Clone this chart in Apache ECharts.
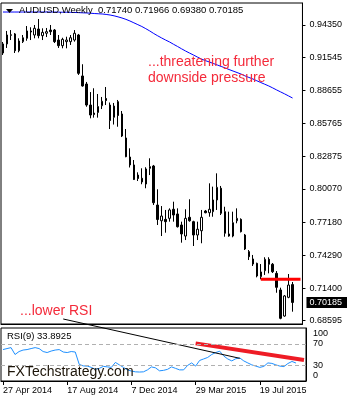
<!DOCTYPE html>
<html><head><meta charset="utf-8">
<script src="https://cdn.jsdelivr.net/npm/echarts@6/dist/echarts.min.js"></script>
<style>html,body{margin:0;padding:0;background:#fff}#c{width:350px;height:400px}</style>
</head><body><div id="c"></div>
<script>
// ---- data ----
const opens  = [0.9270,0.9270,0.9345,0.9357,0.9211,0.9290,0.9319,0.9383,0.9348,0.9400,0.9342,0.9363,0.9391,0.9391,0.9304,0.9255,0.9290,0.9290,0.9304,0.9348,
                0.8991,0.8921,0.8738,0.8668,0.8673,0.8732,0.8795,0.8738,0.8631,0.8767,0.8660,0.8451,0.8285,0.8216,0.8128,0.8100,0.8050,0.8201,0.8207,0.7867,
                0.7730,0.7742,0.7751,0.7830,0.7789,0.7693,0.7597,0.7760,0.7722,0.7606,0.7643,0.7815,0.7800,0.7809,0.7911,0.8013,0.7809,0.7615,0.7597,0.7730,
                0.7742,0.7606,0.7461,0.7397,0.7359,0.7243,0.7295,0.7394,0.7351,0.7272,0.7127,0.6900,0.7063,0.71740];
const closes = [0.9191,0.9348,0.9350,0.9211,0.9296,0.9324,0.9383,0.9374,0.9406,0.9342,0.9371,0.9377,0.9377,0.9290,0.9255,0.9310,0.9304,0.9324,0.9363,0.9014,
                0.8904,0.8738,0.8651,0.8655,0.8725,0.8771,0.8777,0.8603,0.8729,0.8647,0.8468,0.8288,0.8216,0.8089,0.8098,0.8068,0.8181,0.8187,0.7887,0.7741,
                0.7771,0.7722,0.7824,0.7780,0.7678,0.7615,0.7751,0.7730,0.7606,0.7656,0.7760,0.7800,0.7830,0.7911,0.8021,0.7795,0.7621,0.7597,0.7713,0.7751,
                0.7635,0.7484,0.7417,0.7353,0.7249,0.7284,0.7394,0.7351,0.7286,0.7150,0.6880,0.7075,0.7170,0.70185];
const lows   = [0.9174,0.9235,0.9304,0.9191,0.9197,0.9278,0.9298,0.9304,0.9319,0.9319,0.9304,0.9330,0.9348,0.9278,0.9235,0.9232,0.9232,0.9261,0.9290,0.9000,
                0.8898,0.8723,0.8622,0.8628,0.8628,0.8703,0.8738,0.8529,0.8568,0.8549,0.8459,0.8283,0.8194,0.8085,0.8076,0.8048,0.8013,0.8128,0.7867,0.7693,
                0.7597,0.7626,0.7722,0.7722,0.7671,0.7539,0.7562,0.7722,0.7510,0.7562,0.7534,0.7795,0.7765,0.7765,0.7824,0.7780,0.7591,0.7591,0.7586,0.7708,
                0.7628,0.7475,0.7388,0.7336,0.7237,0.7220,0.7258,0.7272,0.7275,0.7103,0.6872,0.6894,0.7055,0.69380];
const highs  = [0.9287,0.9383,0.9391,0.9365,0.9319,0.9348,0.9426,0.9415,0.9435,0.9487,0.9406,0.9409,0.9435,0.9400,0.9348,0.9324,0.9333,0.9348,0.9391,0.9357,
                0.9093,0.8939,0.8851,0.8884,0.8834,0.8808,0.8895,0.8760,0.8756,0.8782,0.8686,0.8529,0.8361,0.8259,0.8152,0.8187,0.8196,0.8274,0.8216,0.8004,
                0.7858,0.7824,0.7838,0.7896,0.7838,0.7722,0.7830,0.7917,0.7730,0.7722,0.7824,0.7824,0.8056,0.8027,0.8143,0.8033,0.7852,0.7809,0.7809,0.7838,
                0.7751,0.7615,0.7475,0.7432,0.7365,0.7353,0.7412,0.7412,0.7362,0.7292,0.7147,0.7083,0.7266,0.71966];
const maValues = [0.9548,0.9548,0.9548,0.9548,0.9548,0.9548,0.9548,0.9548,0.9548,0.9548,0.9548,0.9548,0.9548,0.9548,0.9547,0.9546,0.9546,0.9545,0.9544,0.9543,
                  0.9541,0.9540,0.9538,0.9535,0.9533,0.9531,0.9527,0.9522,0.9515,0.9506,0.9496,0.9484,0.9470,0.9454,0.9438,0.9422,0.9403,0.9383,0.9361,0.9341,
                  0.9322,0.9304,0.9287,0.9267,0.9248,0.9228,0.9209,0.9191,0.9174,0.9156,0.9139,0.9125,0.9113,0.9100,0.9087,0.9074,0.9061,0.9047,0.9034,0.9021,
                  0.9008,0.8992,0.8978,0.8965,0.8949,0.8934,0.8919,0.8904,0.8887,0.8869,0.8852,0.8835,0.8817,0.8799];
const rsiValues = [59.3,61.2,63,50,55.6,58.4,59.3,61.2,63,61.2,55.6,53.7,56.5,58.4,59.3,54.7,53.7,55.6,54.7,31.3,
                   28.5,28.1,25.7,22,23.8,27.6,26.6,25.7,35,30.4,25.7,21,18.8,17.3,16.9,17.3,21,26.6,24.8,19.2,
                   20.1,22,26.6,23.8,21,21,29.4,34.1,28.1,38.8,41.6,44.4,50,53.7,56.2,47.2,41.6,37.9,42,43.5,
                   37.9,34.1,30.4,28.1,25.7,27.6,34.1,33.2,30.4,28.1,27.2,33,36.9,33.8925];
const priceTicks = [0.94350,0.91545,0.88655,0.85765,0.82875,0.80070,0.77180,0.74290,0.71400,0.68595];
const lastClose = 0.70185;
const rsiTicks = [100,70,30,0];
const rsiLevels = [70,30];
const xTickLabels = ['27 Apr 2014','17 Aug 2014','7 Dec 2014','29 Mar 2015','19 Jul 2015'];
const resistanceLine = [[65,0.7220],[75,0.7220]];
const rsiRedTrend = [[48,71],[75,39.6]];
const rsiBlackTrend = [[15,117],[59,42.8]];

// ---- categories: weekly bars from 27 Apr 2014 (+2 empty slots on the right) ----
const MON=['Jan','Feb','Mar','Apr','May','Jun','Jul','Aug','Sep','Oct','Nov','Dec'];
const cats=[];
for(let i=0;i<76;i++){const d=new Date(Date.UTC(2014,3,27+7*i));cats.push(d.getUTCDate()+' '+MON[d.getUTCMonth()]+' '+d.getUTCFullYear());}
const candles = opens.map((o,i)=>[o,closes[i],lows[i],highs[i]]);

const FF='Liberation Sans';
const isTick=(idx,val)=>xTickLabels.indexOf(val)>=0;
const chart=echarts.init(document.getElementById('c'),null,{renderer:'canvas'});
chart.setOption({
  animation:false,
  backgroundColor:'#fff',
  grid:[
    {left:1,top:3,width:305,height:321,show:true,borderColor:'#000',borderWidth:1,backgroundColor:'#fff'},
    {left:1,top:328,width:305,height:53,show:true,borderColor:'#000',borderWidth:1,backgroundColor:'#fff'}
  ],
  xAxis:[
    {gridIndex:0,type:'category',data:cats,boundaryGap:true,axisLine:{lineStyle:{color:'#000'}},axisTick:{show:false},axisLabel:{show:false},splitLine:{show:false}},
    {gridIndex:1,type:'category',data:cats,boundaryGap:true,axisLine:{lineStyle:{color:'#000'}},
     axisTick:{show:true,alignWithLabel:true,interval:isTick,length:4,lineStyle:{color:'#000'}},
     axisLabel:{interval:isTick,align:'left',margin:5,color:'#000',fontSize:9,fontFamily:FF},splitLine:{show:false}}
  ],
  yAxis:[
    {gridIndex:0,type:'value',position:'right',min:0.68307,max:0.96266,splitLine:{show:false},
     axisLine:{show:true,lineStyle:{color:'#000'}},
     axisTick:{show:true,length:3,lineStyle:{color:'#000'},customValues:priceTicks},
     axisLabel:{customValues:priceTicks.concat([lastClose]),margin:4,color:'#000',fontSize:9,fontFamily:FF,
       formatter:v=>Math.abs(v-lastClose)<1e-9?'{hl|'+v.toFixed(5)+'}':'{n|'+v.toFixed(5)+'}',
       rich:{n:{padding:[0,0,0,3],color:'#000',fontSize:9,fontFamily:FF},
             hl:{backgroundColor:'#000',color:'#fff',padding:[1,5,1,3],fontSize:9,fontFamily:FF}}}},
    {gridIndex:1,type:'value',position:'right',min:0,max:100,splitLine:{show:false},
     axisLine:{show:true,lineStyle:{color:'#000'}},axisTick:{show:false},
     axisLabel:{customValues:rsiTicks,margin:7,color:'#000',fontSize:9,fontFamily:FF,
       formatter:v=>v===100?'{t|100}':(v===0?'{b|0}':'{n|'+v+'}'),
       rich:{t:{padding:[12,0,0,0],fontSize:9,fontFamily:FF,color:'#000'},
             b:{padding:[0,0,10,0],fontSize:9,fontFamily:FF,color:'#000'},
             n:{fontSize:9,fontFamily:FF,color:'#000'}}}}
  ],
  series:[
    {type:'candlestick',xAxisIndex:0,yAxisIndex:0,data:candles,barWidth:2,
     itemStyle:{color:'#fff',color0:'#000',borderColor:'#000',borderColor0:'#000',borderWidth:1}},
    {type:'line',xAxisIndex:0,yAxisIndex:0,data:maValues,symbol:'none',lineStyle:{color:'#0000ff',width:1},z:3},
    {type:'line',xAxisIndex:0,yAxisIndex:0,data:resistanceLine,symbol:'none',lineStyle:{color:'#ff0000',width:3},z:5},
    {type:'line',xAxisIndex:1,yAxisIndex:1,data:rsiValues,symbol:'none',lineStyle:{color:'#1e90ff',width:1},
     markLine:{silent:true,symbol:'none',label:{show:false},lineStyle:{color:'#b0b0b0',type:[4,3],width:1},
       data:rsiLevels.map(v=>({yAxis:v}))}},
    {type:'line',xAxisIndex:1,yAxisIndex:1,data:rsiRedTrend,symbol:'none',lineStyle:{color:'#ee1c25',width:4},z:4},
    {type:'line',xAxisIndex:1,yAxisIndex:1,data:rsiBlackTrend,symbol:'none',clip:false,lineStyle:{color:'#000',width:1},z:4}
  ],
  graphic:[
    {type:'polygon',shape:{points:[[6,9],[13,9],[9.5,13]]},style:{fill:'#000'},z:10},
    {type:'text',x:19,y:10.5,style:{text:'AUDUSD,Weekly  0.71740 0.71966 0.69380 0.70185',fill:'#000',font:'9.5px "Liberation Sans"',verticalAlign:'middle'},z:10},
    {type:'text',x:148,y:62,style:{text:'...threatening further',fill:'#f42a3a',font:'14px "Liberation Sans"',verticalAlign:'middle'},z:10},
    {type:'text',x:148,y:78,style:{text:'downside pressure',fill:'#f42a3a',font:'14px "Liberation Sans"',verticalAlign:'middle'},z:10},
    {type:'text',x:20,y:311,style:{text:'...lower RSI',fill:'#f42a3a',font:'14px "Liberation Sans"',verticalAlign:'middle'},z:10},
    {type:'text',x:7,y:336.5,style:{text:'RSI(9) 33.8925',fill:'#000',font:'9.5px "Liberation Sans"',verticalAlign:'middle'},z:10},
    {type:'text',x:7,y:372,style:{text:'FXTechstrategy.com',fill:'#1c1408',font:'14px "Liberation Sans"',verticalAlign:'middle'},z:10}
  ]
});
</script></body></html>
